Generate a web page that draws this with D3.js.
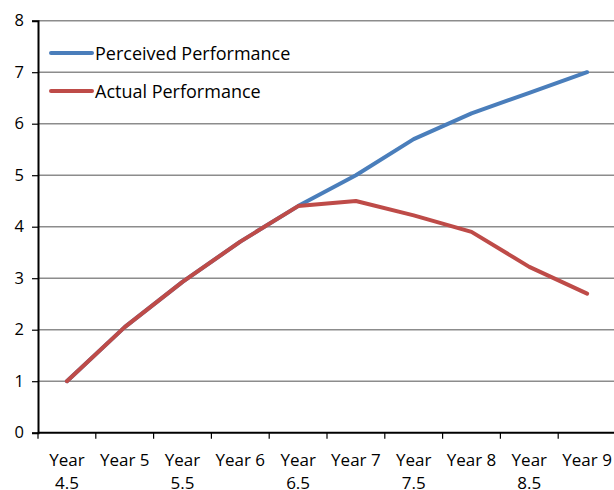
<!DOCTYPE html>
<html><head><meta charset="utf-8">
<script src="https://cdn.jsdelivr.net/npm/d3@7"></script>
<style>body{margin:0;background:#fff}svg{display:block}text{font-family:"Open Sans",sans-serif;fill:#000}</style>
</head><body>
<svg id="c" width="614" height="490"></svg>
<script>
const categories = [["Year","4.5"],["Year 5"],["Year","5.5"],["Year 6"],["Year","6.5"],["Year 7"],["Year","7.5"],["Year 8"],["Year","8.5"],["Year 9"]];
const perceived = [1, 2.05, 2.93, 3.71, 4.4, 5.0, 5.7, 6.2, 6.6, 7.0];
const actual = [1, 2.05, 2.93, 3.71, 4.4, 4.5, 4.22, 3.9, 3.22, 2.7];
const yTicks = [0,1,2,3,4,5,6,7,8];
const seriesNames = ["Perceived Performance","Actual Performance"];
const colors = ["#4a7ebb","#be4b48"];

(function(){
const svg = d3.select("#c");
const mLeft = 38, mRight = 616, mTop = 20.7, mBottom = 432.7;
const x = d3.scaleBand().domain(d3.range(categories.length)).range([mLeft, mRight]);
const y = d3.scaleLinear().domain([0, 8]).range([mBottom, mTop]);

svg.append("g").selectAll("line").data(yTicks.filter(d=>d>0)).join("line")
  .attr("x1", mLeft).attr("x2", 614).attr("y1", d=>y(d)).attr("y2", d=>y(d))
  .attr("stroke", "#8c8c8c").attr("stroke-width", 1.5);

const ya = svg.append("g").attr("transform", `translate(${mLeft},0)`)
  .call(d3.axisLeft(y).tickValues(yTicks).tickSize(6).tickPadding(8).tickFormat(d3.format("d")));
ya.select(".domain").attr("stroke", "#000").attr("stroke-width", 2);
ya.selectAll(".tick line").attr("stroke", "#000").attr("stroke-width", 1.2);
ya.selectAll("text").attr("font-size", 16.5).attr("font-family", "Open Sans").attr("fill","#000");

const xa = svg.append("g").attr("transform", `translate(0,${mBottom})`);
xa.append("line").attr("x1", mLeft).attr("x2", 614).attr("y1", 0).attr("y2", 0).attr("stroke", "#000").attr("stroke-width", 2);
xa.selectAll("line.tk").data(d3.range(categories.length + 1)).join("line").attr("class","tk")
  .attr("x1", d=>mLeft + d*x.step()).attr("x2", d=>mLeft + d*x.step())
  .attr("y1", 0).attr("y2", 6).attr("stroke", "#000").attr("stroke-width", 1.2);
const lab = xa.selectAll("text").data(categories).join("text")
  .attr("text-anchor", "middle").attr("font-size", 17)
  .attr("transform", (d,i)=>`translate(${x(i)+x.bandwidth()/2},0)`);
lab.selectAll("tspan").data(d=>d).join("tspan")
  .attr("x", 0).attr("y", (d,i)=>33.5 + i*23).text(d=>d);

const line = d3.line().x((d,i)=>x(i)+x.bandwidth()/2).y(d=>y(d));
[perceived, actual].forEach((s, k)=>{
  svg.append("path").datum(s).attr("d", line).attr("fill","none")
    .attr("stroke", colors[k]).attr("stroke-width", 4).attr("stroke-linejoin","round").attr("stroke-linecap","round");
});

const lg = svg.append("g");
seriesNames.forEach((n,k)=>{
  const yy = 53 + k*38;
  lg.append("line").attr("x1", 51).attr("x2", 92).attr("y1", yy).attr("y2", yy)
    .attr("stroke", colors[k]).attr("stroke-width", 4).attr("stroke-linecap","round");
  lg.append("text").attr("x", 95).attr("y", yy + 6.5).attr("font-size", 18).text(n);
});
})();
</script>
</body></html>
